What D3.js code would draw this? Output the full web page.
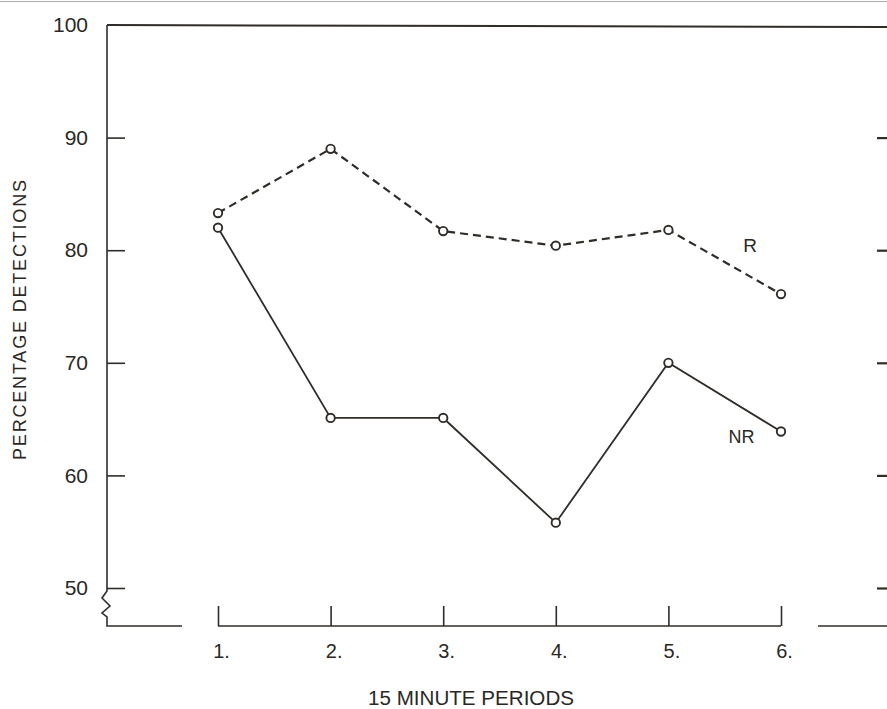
<!DOCTYPE html>
<html>
<head>
<meta charset="utf-8">
<script src="https://cdn.jsdelivr.net/npm/d3@7"></script>
<style>
  body { margin: 0; background: #fff; }
  svg { display: block; }
  text { font-family: "Liberation Sans", Arial, sans-serif; fill: #2b2824; }
</style>
</head>
<body>
<svg id="chart"></svg>
<script>
//data
const periods = [1, 2, 3, 4, 5, 6];
const periodLabels = ["1.", "2.", "3.", "4.", "5.", "6."];
const valuesR = [83.3, 89.0, 81.7, 80.4, 81.8, 76.1];
const valuesNR = [82.0, 65.1, 65.1, 55.8, 70.0, 63.9];
const yTicks = [50, 60, 70, 80, 90, 100];

const width = 887, height = 709;
const ink = "#302c28";

const svg = d3.select("#chart").attr("width", width).attr("height", height);

//scales
const x = d3.scaleLinear().domain([1, 6]).range([218, 781]);
const y = d3.scaleLinear().domain([50, 100]).range([588, 25]);
const left = 107, bottom = 626, right = 887;

//scan edge at the very top
svg.append("line")
  .attr("x1", 0).attr("x2", width).attr("y1", 1.5).attr("y2", 1.5)
  .attr("stroke", "#8a8a90").attr("stroke-width", 1.2).attr("opacity", 0.7);

//frame top line
svg.append("line")
  .attr("x1", left).attr("x2", right).attr("y1", y(100)).attr("y2", y(100) + 2)
  .attr("stroke", ink).attr("stroke-width", 2);

//left axis with break
const yAxis = d3.axisLeft(y).tickValues(yTicks).tickSize(-18).tickPadding(19);
const gy = svg.append("g").attr("transform", `translate(${left},0)`).call(yAxis);
gy.select(".domain").remove();
gy.selectAll(".tick line").attr("stroke", ink).attr("stroke-width", 1.6);
gy.selectAll(".tick").filter(d => d === 100).select("line").remove();
gy.selectAll(".tick text").style("font-size", "21px").attr("fill", "#2b2824");

const breakTop = y(50) + 3;
svg.append("path")
  .attr("d", `M${left},${y(100)} V${breakTop} l-5,7 l8,8 l-8,7 l5,4 V${bottom} H${x(1) - 36}`)
  .attr("fill", "none").attr("stroke", ink).attr("stroke-width", 1.6);

//bottom axis
const xAxis = d3.axisBottom(x).tickValues(periods).tickSize(-20)
  .tickFormat((d, i) => periodLabels[i]);
const gx = svg.append("g").attr("transform", `translate(0,${bottom})`).call(xAxis);
gx.select(".domain").remove();
gx.selectAll(".tick line").attr("stroke", ink).attr("stroke-width", 1.6);
gx.selectAll(".tick text")
  .attr("y", 32).attr("dy", 0).attr("dx", 3)
  .style("font-size", "20px").attr("fill", "#2b2824");

svg.append("line")
  .attr("x1", x(1)).attr("x2", x(6)).attr("y1", bottom).attr("y2", bottom)
  .attr("stroke", ink).attr("stroke-width", 1.6);
svg.append("line")
  .attr("x1", x(6) + 37).attr("x2", right).attr("y1", bottom).attr("y2", bottom)
  .attr("stroke", ink).attr("stroke-width", 1.6);

//right axis (cut off at the edge)
const yRight = d3.axisRight(y).tickValues(yTicks.filter(d => d < 100)).tickSize(-10).tickFormat("");
const gr = svg.append("g").attr("transform", `translate(${right},0)`).call(yRight);
gr.select(".domain").remove();
gr.selectAll(".tick line").attr("stroke", ink).attr("stroke-width", 2.2);

//lines
const line = d3.line().x((d, i) => x(periods[i])).y(d => y(d));

svg.append("path").datum(valuesR)
  .attr("d", line).attr("fill", "none")
  .attr("stroke", ink).attr("stroke-width", 2.2)
  .attr("stroke-dasharray", "8,5");

svg.append("path").datum(valuesNR)
  .attr("d", line).attr("fill", "none")
  .attr("stroke", ink).attr("stroke-width", 1.8);

[valuesR, valuesNR].forEach(vals => {
  svg.append("g").selectAll("circle")
    .data(vals)
    .join("circle")
    .attr("cx", (d, i) => x(periods[i]))
    .attr("cy", d => y(d))
    .attr("r", 4.2)
    .attr("fill", "#fff")
    .attr("stroke", ink)
    .attr("stroke-width", 1.9);
});

//series labels
svg.append("text")
  .attr("x", x(5.725)).attr("y", y(79.85))
  .attr("text-anchor", "middle").style("font-size", "19px").text("R");
svg.append("text")
  .attr("x", x(5.65)).attr("y", y(62.9))
  .attr("text-anchor", "middle").style("font-size", "18px").text("NR");

//axis titles
svg.append("text")
  .attr("x", 471).attr("y", 705)
  .attr("text-anchor", "middle").style("font-size", "20px")
  .attr("textLength", 206).attr("lengthAdjust", "spacingAndGlyphs")
  .text("15 MINUTE PERIODS");

svg.append("text")
  .attr("transform", "translate(26,320) rotate(-90)")
  .attr("text-anchor", "middle").style("font-size", "18px")
  .attr("textLength", 280).attr("lengthAdjust", "spacing")
  .text("PERCENTAGE DETECTIONS");
</script>
</body>
</html>
